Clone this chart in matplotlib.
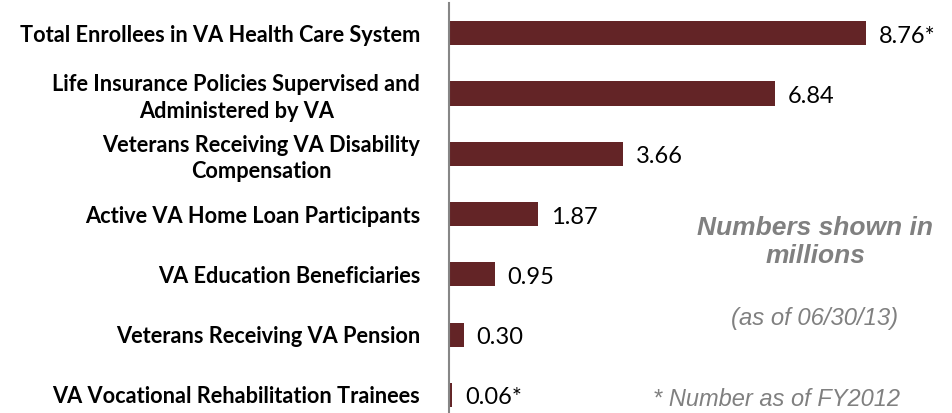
import matplotlib
matplotlib.use('Agg')
import matplotlib.pyplot as plt

# Datos (millones)
categorias = [
    "Total Enrollees in VA Health Care System",
    "Life Insurance Policies Supervised and\nAdministered by VA",
    "Veterans Receiving VA Disability\nCompensation",
    "Active VA Home Loan Participants",
    "VA Education Beneficiaries",
    "Veterans Receiving VA Pension",
    "VA Vocational Rehabilitation Trainees",
]
valores = [8.76, 6.84, 3.66, 1.87, 0.95, 0.30, 0.06]
asterisco = [True, False, False, False, False, False, True]

color_barra = '#632426'
gris = '#808080'

fig = plt.figure(figsize=(9.53, 4.13), dpi=100)
ax = fig.add_axes([0.4715, 0.0, 0.5285, 0.9927])

pos = list(range(len(categorias)))
ax.barh(pos, valores, height=0.4, color=color_barra)

ax.set_xlim(0, 10.59)
ax.set_ylim(6.30, -0.5)

# Etiquetas de valor
for i, v in enumerate(valores):
    txt = f"{v:.2f}" + ("*" if asterisco[i] else "")
    ax.text(v + 0.27, i + 0.05, txt, va='center', ha='left',
            fontsize=17, family='Lato', color='black')

ax.set_yticks(pos)
ax.set_yticklabels(categorias, fontsize=15.7, fontweight='bold', family='Lato')
for t in ax.get_yticklabels():
    t.set_multialignment('center')
    t.set_linespacing(1.3)
ax.tick_params(axis='y', length=0, pad=21)
ax.set_xticks([])

for lado in ['top', 'right', 'bottom']:
    ax.spines[lado].set_visible(False)
ax.spines['left'].set_color('#868686')
ax.spines['left'].set_linewidth(1.5)

# Notas
fig.text(815 / 953, 1 - 242 / 413, "Numbers shown in\nmillions", ha='center', va='center',
         fontsize=19, fontweight='bold', style='italic', color=gris,
         family='Liberation Sans', linespacing=1.2)
fig.text(815 / 953, 1 - 318 / 413, "(as of 06/30/13)", ha='center', va='center',
         fontsize=17.2, style='italic', color=gris, family='Liberation Sans')
fig.text(777 / 953, 1 - 400 / 413, "* Number as of FY2012", ha='center', va='center',
         fontsize=17, style='italic', color=gris, family='Liberation Sans')

fig.savefig('out.png', dpi=100)
plt.close()
